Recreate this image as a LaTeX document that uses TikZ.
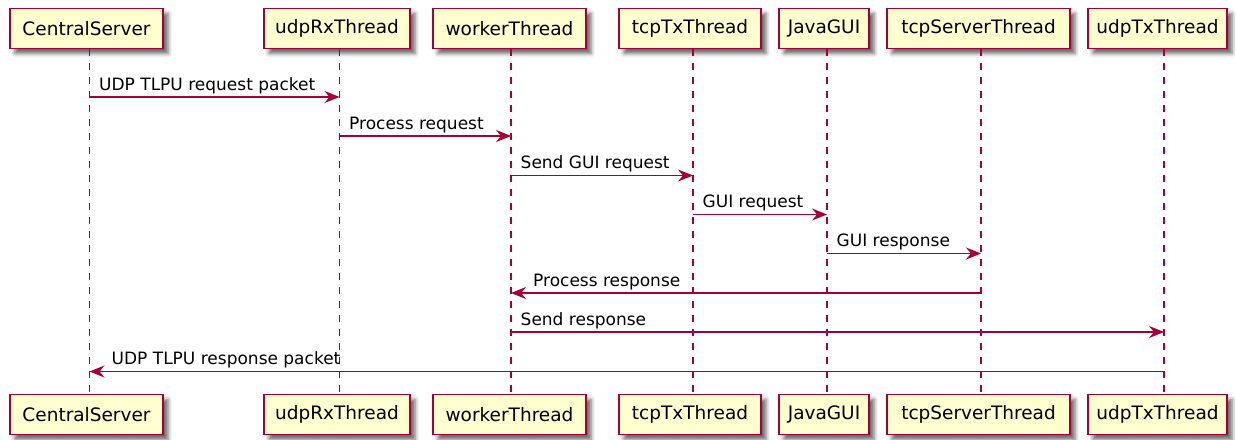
\documentclass[tikz,border=0pt]{standalone}
\usepackage{fontspec}
\setmainfont{DejaVu Sans}
\usetikzlibrary{arrows.meta,shadows.blur,calc}
\definecolor{pborder}{HTML}{A80036}
\definecolor{pfill}{HTML}{FEFECE}
\begin{document}
\begin{tikzpicture}[x=1pt,y=-1pt,
  part/.style={draw=pborder, fill=pfill, line width=1.6pt, minimum height=40pt, inner sep=0pt,
    font=\fontsize{18.5}{22}\selectfont,
    blur shadow={shadow xshift=5pt, shadow yshift=-5pt, shadow blur radius=4pt, shadow opacity=60}},
  life/.style={draw=pborder, line width=1.1pt, dash pattern=on 7pt off 7pt},
  msg/.style={draw=pborder, line width=1.3pt, -{Stealth[length=15pt,width=12pt,inset=5pt]}},
  lbl/.style={font=\fontsize{17}{20}\selectfont, inner sep=0pt, anchor=base west}]
\useasboundingbox (0,0) rectangle (1236,439);
% participants (top)
\node[part, minimum width=153pt] (csT) at (86.5,28.5) {CentralServer};
\node[part, minimum width=146pt] (urT) at (337,28.5) {udpRxThread};
\node[part, minimum width=153pt] (wtT) at (509.5,28.5) {workerThread};
\node[part, minimum width=142pt] (ttT) at (690,28.5) {tcpTxThread};
\node[part, minimum width=90pt] (jgT) at (824,28.5) {JavaGUI};
\node[part, minimum width=183pt] (tsT) at (978.5,28.5) {tcpServerThread};
\node[part, minimum width=139pt] (utT) at (1157.5,28.5) {udpTxThread};
% participants (bottom)
\node[part, minimum width=153pt] (csB) at (86.5,414.5) {CentralServer};
\node[part, minimum width=146pt] (urB) at (337,414.5) {udpRxThread};
\node[part, minimum width=153pt] (wtB) at (509.5,414.5) {workerThread};
\node[part, minimum width=142pt] (ttB) at (690,414.5) {tcpTxThread};
\node[part, minimum width=90pt] (jgB) at (824,414.5) {JavaGUI};
\node[part, minimum width=183pt] (tsB) at (978.5,414.5) {tcpServerThread};
\node[part, minimum width=139pt] (utB) at (1157.5,414.5) {udpTxThread};
% lifeline x positions
\coordinate (csL) at (89.5,0);
\coordinate (urL) at (339.5,0);
\coordinate (wtL) at (511,0);
\coordinate (ttL) at (693,0);
\coordinate (jgL) at (827,0);
\coordinate (tsL) at (981,0);
\coordinate (utL) at (1164,0);
\foreach \p in {cs,ur,wt,tt,jg,ts,ut}
  \draw[life] (\p L |- \p T.south) -- (\p L |- \p B.north);
% message rows
\coordinate (m1) at (0,97);
\coordinate (m2) at (0,136);
\coordinate (m3) at (0,175.5);
\coordinate (m4) at (0,214.5);
\coordinate (m5) at (0,253.5);
\coordinate (m6) at (0,293);
\coordinate (m7) at (0,332);
\coordinate (m8) at (0,371.5);
% messages
\draw[msg] (csL |- m1) -- (urL |- m1);
\node[lbl] (l1) at ($(csL |- m1)+(9.5,-7)$) {UDP TLPU request packet};
\draw[msg] (urL |- m2) -- (wtL |- m2);
\node[lbl] (l2) at ($(urL |- m2)+(9.5,-7)$) {Process request};
\draw[msg] (wtL |- m3) -- (ttL |- m3);
\node[lbl] (l3) at ($(wtL |- m3)+(9.5,-7)$) {Send GUI request};
\draw[msg] (ttL |- m4) -- (jgL |- m4);
\node[lbl] (l4) at ($(ttL |- m4)+(9.5,-7)$) {GUI request};
\draw[msg] (jgL |- m5) -- (tsL |- m5);
\node[lbl] (l5) at ($(jgL |- m5)+(9.5,-7)$) {GUI response};
\draw[msg] (tsL |- m6) -- (wtL |- m6);
\node[lbl] (l6) at ($(wtL |- m6)+(22,-7)$) {Process response};
\draw[msg] (wtL |- m7) -- (utL |- m7);
\node[lbl] (l7) at ($(wtL |- m7)+(9.5,-7)$) {Send response};
\draw[msg] (utL |- m8) -- (csL |- m8);
\node[lbl] (l8) at ($(csL |- m8)+(22,-7)$) {UDP TLPU response packet};
\end{tikzpicture}
\end{document}
